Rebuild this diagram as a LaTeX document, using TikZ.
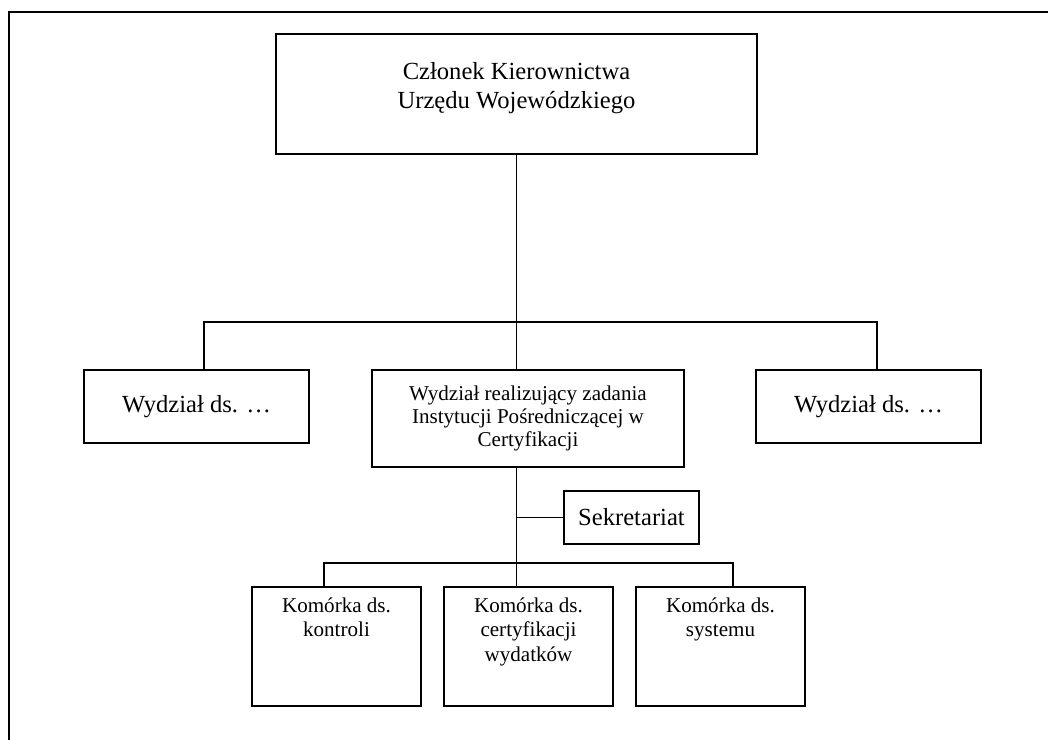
\documentclass[tikz,border=0pt]{standalone}
\usepackage{fontspec}
\setmainfont{Liberation Serif}
\tikzset{
	box/.style={draw, line width=0.8pt, inner sep=0pt, align=center},
	txt/.style={inner sep=0pt, align=center},
	link/.style={line width=0.8pt},
	big/.style={font=\fontsize{14}{16.4}\selectfont},
	small/.style={font=\fontsize{12}{14}\selectfont},
}
\begin{document}
\begin{tikzpicture}[x=0.02cm, y=-0.02cm]
	\useasboundingbox (0,0) rectangle (1048,740);
	% ramka
	\draw[line width=1pt] (9,740) -- (9,12) -- (1048,12);

	% kierownictwo
	\node[box, minimum width=9.62cm, minimum height=2.4cm] (czlonek) at (516.5,94) {};
	\node[txt, big] (czlonekTxt) at (516.5,88.5) {Członek Kierownictwa\\Urzędu Wojewódzkiego};

	% wydzialy
	\node[box, big, minimum width=4.5cm, minimum height=1.46cm] (wydzL) at (196.5,406.5) {Wydział ds. …};
	\node[box, font=\fontsize{12}{13}\selectfont, minimum width=6.24cm, minimum height=1.94cm] (wydzM) at (528,418.5)
		{Wydział realizujący zadania\\Instytucji Pośredniczącej w\\Certyfikacji};
	\node[box, big, minimum width=4.5cm, minimum height=1.46cm] (wydzR) at (868.5,406.5) {Wydział ds. …};
	\node[box, big, minimum width=2.7cm, minimum height=1.06cm] (sekr) at (631.5,517.5) {Sekretariat};

	% komorki
	\foreach \name/\x/\txt in {kom1/336.5/{Komórka ds.\\kontroli},
			kom2/528.5/{Komórka ds.\\certyfikacji\\wydatków},
			kom3/720.5/{Komórka ds.\\systemu}} {
		\node[box, minimum width=3.38cm, minimum height=2.38cm] (\name) at (\x,646.5) {};
		\node[txt, small, anchor=north] (\name Txt) at ([yshift=-6.2pt]\name.north) {\txt};
	}

	% polaczenia
	\coordinate (barL) at (204,322);
	\coordinate (barR) at (877,322);
	\coordinate (subL) at (324,563);
	\coordinate (subR) at (733,563);
	\coordinate (spine) at (czlonek.south |- wydzM.south);
	\draw[link] (czlonek.south) -- (czlonek.south |- wydzM.north);
	\draw[link] (wydzL.north -| barL) |- (barR) -- (barR |- wydzR.north);
	\draw[link] (spine) -- (spine |- kom2.north);
	\draw[link] (sekr.west) -- (sekr.west -| spine);
	\draw[link] (kom1.north -| subL) |- (subR) -- (subR |- kom3.north);
\end{tikzpicture}
\end{document}
